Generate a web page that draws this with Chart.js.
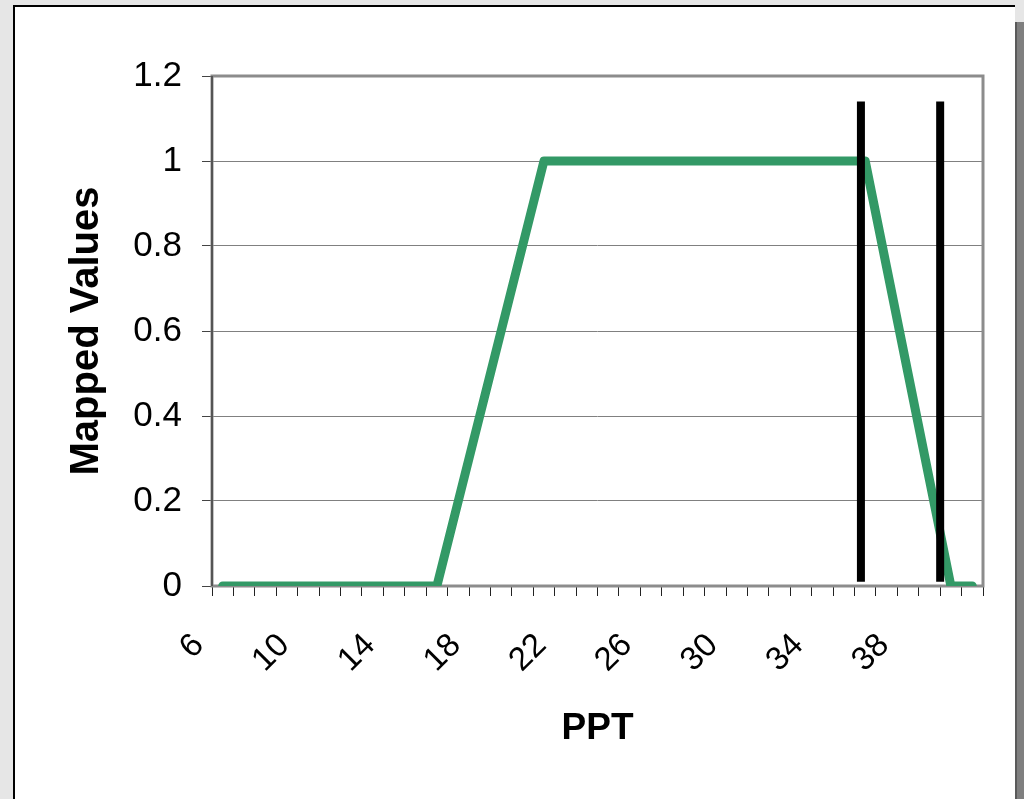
<!DOCTYPE html>
<html>
<head>
<meta charset="utf-8">
<script src="https://cdn.jsdelivr.net/npm/chart.js@4.4.1/dist/chart.umd.min.js"></script>
<style>
  html, body { margin: 0; padding: 0; }
  body { width: 1024px; height: 799px; overflow: hidden; background: #e6e6e6; position: relative; }
  #panel { position: absolute; left: 13px; top: 5px; width: 1000px; height: 800px; background: #fff;
           border-left: 2px solid #000; border-top: 2px solid #000; }
  #shadow { position: absolute; left: 1015px; top: 22px; width: 9px; height: 800px; background: #7f7f7f;
            border-left: 2px solid #5a5a5a; }
  #chart { position: absolute; left: 0; top: 0; }
</style>
</head>
<body>
<div id="panel"></div>
<div id="shadow"></div>
<canvas id="chart" width="1024" height="799"></canvas>
<script>
// categorie asse X (PPT) e valori mappati
const pptLabels = [6, 7, 8, 9, 10, 11, 12, 13, 14, 15, 16, 17, 18, 19, 20, 21, 22, 23, 24, 25,
                   26, 27, 28, 29, 30, 31, 32, 33, 34, 35, 36, 37, 38, 39, 40, 41];
const mappedValues = [0, 0, 0, 0, 0, 0, 0, 0, 0, 0, 0, 0.2, 0.4, 0.6, 0.8, 1, 1, 1, 1, 1,
                      1, 1, 1, 1, 1, 1, 1, 1, 1, 1, 1, 0.75, 0.5, 0.25, 0, 0];
// linee verticali nere (posizione in unita PPT, estremi in Mapped Values)
const markerX = [35.8, 39.5];
const markerY = [0.01, 1.14];
const yTicks = [0, 0.2, 0.4, 0.6, 0.8, 1, 1.2];

const FONT = "'Liberation Sans', Arial, sans-serif";

// bordo grigio dell'area del grafico
const plotBorder = {
    id: 'plotBorder',
    beforeDatasetsDraw(chart) {
        const { ctx, chartArea: a } = chart;
        ctx.save();
        ctx.strokeStyle = '#8c8c8c';
        ctx.lineWidth = 3;
        ctx.strokeRect(a.left, a.top, a.right - a.left, a.bottom - a.top);
        ctx.strokeStyle = '#555';
        ctx.lineWidth = 2;
        ctx.beginPath();
        ctx.moveTo(a.left, a.top);
        ctx.lineTo(a.left, a.bottom);
        ctx.stroke();
        ctx.restore();
    }
};

const markerSets = markerX.map(x => ({
    type: 'line',
    xAxisID: 'x2',
    data: [{ x: x, y: markerY[0] }, { x: x, y: markerY[1] }],
    borderColor: '#000',
    borderWidth: 8,
    borderCapStyle: 'butt',
    pointRadius: 0,
    order: 0
}));

new Chart(document.getElementById('chart'), {
    type: 'line',
    data: {
        labels: pptLabels.map(String),
        datasets: [
            ...markerSets,
            {
                label: 'Mapped',
                data: mappedValues,
                borderColor: '#339966',
                borderWidth: 9,
                borderCapStyle: 'round',
                borderJoinStyle: 'round',
                pointRadius: 0,
                tension: 0,
                order: 1
            }
        ]
    },
    options: {
        responsive: false,
        animation: false,
        layout: { padding: { left: 0, top: 76, right: 41, bottom: 0 } },
        plugins: { legend: { display: false }, tooltip: { enabled: false } },
        scales: {
            x: {
                type: 'category',
                offset: true,
                grid: { offset: true, drawOnChartArea: false, drawTicks: true, tickLength: 10, tickColor: '#222', lineWidth: 1 },
                border: { display: false },
                ticks: {
                    autoSkip: false,
                    minRotation: 45,
                    maxRotation: 45,
                    padding: 30,
                    labelOffset: -24,
                    color: '#000',
                    font: { family: FONT, size: 33 },
                    callback: (v, i) => (i % 4 === 0 ? pptLabels[i] : '')
                },
                title: { display: true, text: 'PPT', color: '#000', font: { family: FONT, size: 37, weight: 'bold' }, padding: { top: 0, bottom: 48 } },
                afterFit: s => { s.height = 213; s.paddingLeft = 0; s.paddingRight = 0; }
            },
            x2: { type: 'linear', display: false, min: 5.5, max: 41.5 },
            y: {
                min: 0,
                max: 1.2,
                afterBuildTicks: s => { s.ticks = yTicks.map(v => ({ value: v })); },
                grid: { color: '#808080', lineWidth: 1, tickLength: 10, tickColor: '#444' },
                border: { display: false },
                ticks: {
                    padding: 20,
                    color: '#000',
                    font: { family: FONT, size: 35 },
                    callback: v => String(v)
                },
                title: { display: true, text: 'Mapped Values', color: '#000', font: { family: FONT, size: 40, weight: 'bold' }, padding: { top: 63, bottom: 0 } },
                afterFit: s => { s.width = 212; }
            }
        }
    },
    plugins: [plotBorder]
});
</script>
</body>
</html>
